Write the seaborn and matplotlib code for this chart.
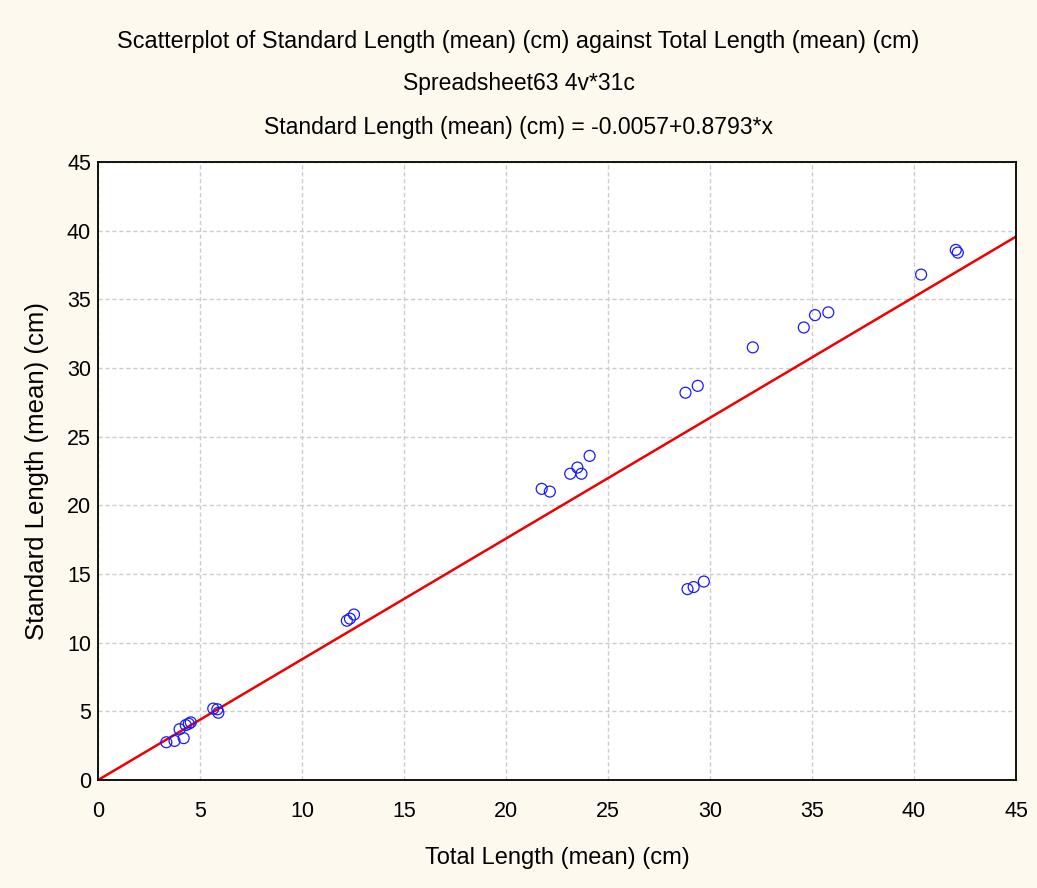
import matplotlib
matplotlib.use("Agg")
import matplotlib.pyplot as plt
import numpy as np
import pandas as pd
import seaborn as sns
from matplotlib.ticker import MultipleLocator

# data
total_length = [3.35, 3.75, 4.2, 4.0, 4.3, 4.55, 4.45, 5.65, 5.85, 5.9,
                12.2, 12.35, 12.55,
                21.75, 22.15, 23.15, 23.5, 23.7, 24.1,
                28.8, 29.4, 28.9, 29.2, 29.7,
                32.1, 34.6, 35.15, 35.8, 40.35, 42.05, 42.15]
standard_length = [2.75, 2.85, 3.05, 3.7, 4.0, 4.2, 4.1, 5.2, 5.15, 4.9,
                   11.6, 11.75, 12.05,
                   21.2, 21.0, 22.3, 22.75, 22.3, 23.6,
                   28.2, 28.7, 13.9, 14.05, 14.45,
                   31.5, 32.95, 33.85, 34.05, 36.8, 38.6, 38.4]
intercept = -0.0057
slope = 0.8793
ticks = list(range(0, 50, 5))

df = pd.DataFrame({"total": total_length, "standard": standard_length})

sns.set_style("white")
plt.rcParams["font.family"] = ["Liberation Sans", "DejaVu Sans"]
plt.rcParams["text.color"] = "black"
plt.rcParams["axes.labelcolor"] = "black"

fig = plt.figure(figsize=(10.37, 8.88), dpi=100, facecolor="#fdf9ef")
ax = fig.add_axes([0.0945, 0.1216, 0.8852, 0.696])
ax.set_facecolor("white")

ax.grid(True, color="#cccccc", linestyle=(0, (3, 2)), linewidth=1)
ax.set_axisbelow(True)

xs = np.array([0, 45])
ax.plot(xs, intercept + slope * xs, color="#ee0000", linewidth=1.8, zorder=2)

sns.scatterplot(data=df, x="total", y="standard", ax=ax, marker="o",
                s=62, facecolor="none", edgecolor="#1a1aff", linewidth=0.9,
                zorder=3)

ax.set_xlim(0, 45)
ax.set_ylim(0, 45)
ax.set_xticks(ticks)
ax.set_yticks(ticks)
ax.xaxis.set_minor_locator(MultipleLocator(1))
ax.yaxis.set_minor_locator(MultipleLocator(1))
ax.tick_params(which="major", direction="in", length=6, width=1, labelsize=15.5,
               colors="black")
ax.tick_params(axis="x", which="major", pad=15)
ax.tick_params(axis="y", which="major", pad=5)
ax.tick_params(which="minor", direction="in", length=3, width=0.8)
for sp in ax.spines.values():
    sp.set_visible(True)
    sp.set_color("black")
    sp.set_linewidth(1.3)

ax.set_xlabel("Total Length (mean) (cm)", fontsize=17, labelpad=18)
ax.set_ylabel("Standard Length (mean) (cm)", fontsize=18.5, labelpad=13)

fig.text(0.5, 0.953, "Scatterplot of Standard Length (mean) (cm) against Total Length (mean) (cm)",
         ha="center", va="center", fontsize=16.8)
fig.text(0.5, 0.906, "Spreadsheet63 4v*31c", ha="center", va="center",
         fontsize=16.5)
fig.text(0.5, 0.856, "Standard Length (mean) (cm) = -0.0057+0.8793*x",
         ha="center", va="center", fontsize=16.6)

fig.savefig("out.png", dpi=100, facecolor=fig.get_facecolor())
